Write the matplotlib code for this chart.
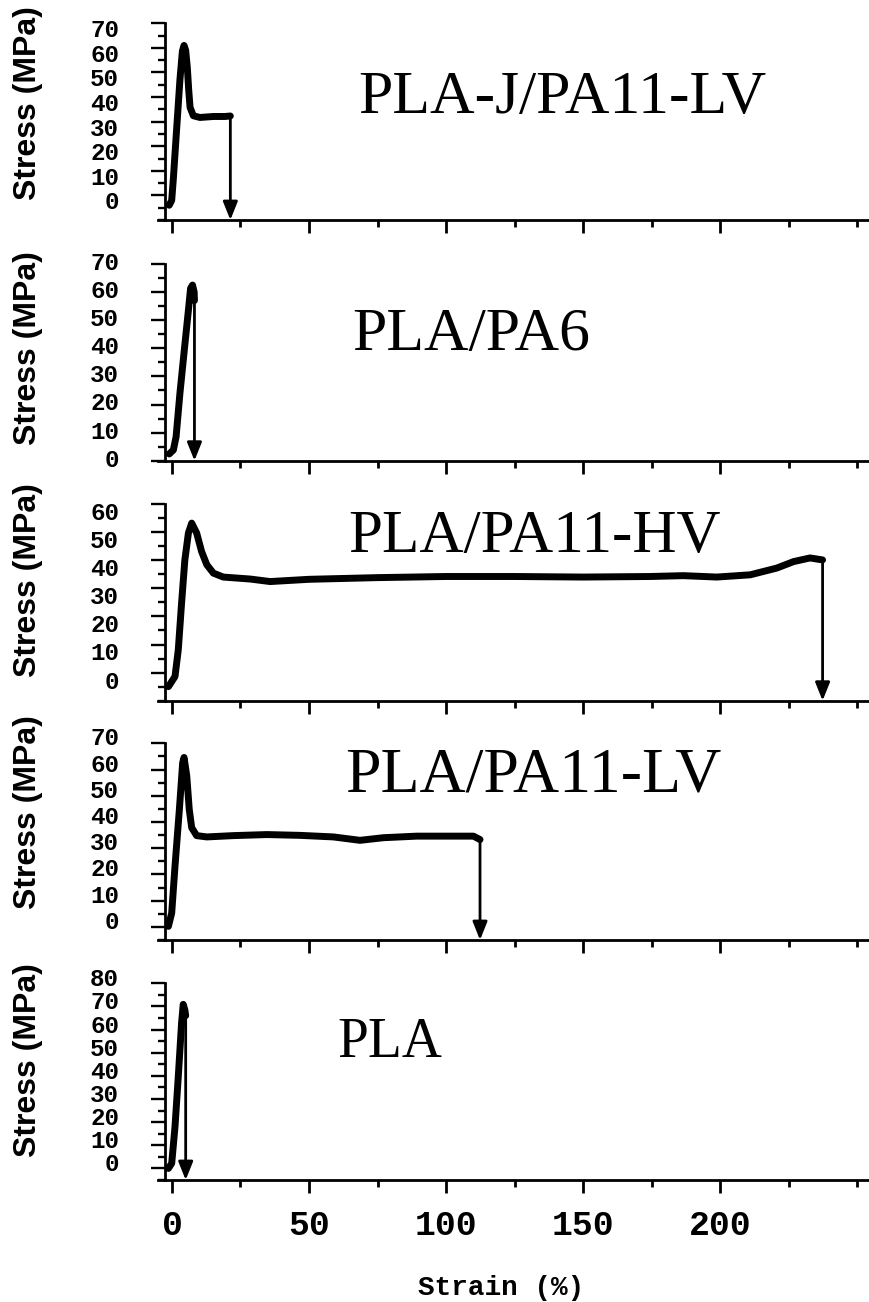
import matplotlib
matplotlib.use("Agg")
import matplotlib.pyplot as plt
import matplotlib.transforms as mtransforms
import numpy as np
from matplotlib.ticker import FixedLocator, MultipleLocator

W, H = 870, 1302

# sample names, top to bottom
names = ["PLA-J/PA11-LV", "PLA/PA6", "PLA/PA11-HV", "PLA/PA11-LV", "PLA"]

# PLA-J/PA11-LV
strain1 = [-1.0, -0.1, 0.5, 1.7, 2.9, 3.8, 4.4, 5.0, 5.6, 6.1, 6.6, 7.8, 10.2, 15.1, 19.3, 21.3]
stress1 = [-4.0, -2.0, 6.8, 27.0, 47.0, 58.7, 61.0, 59.0, 52.0, 43.0, 35.8, 32.4, 31.7, 32.1, 32.1, 32.3]

# PLA/PA6
strain2 = [-1.0, 0.5, 1.5, 2.9, 4.5, 6.0, 6.8, 7.5, 8.1, 8.2]
stress2 = [2.4, 3.8, 8.5, 24.0, 39.4, 53.6, 61.4, 62.5, 60.0, 57.0]

# PLA/PA11-HV
strain3 = [-1.3, -0.1, 1.1, 2.3, 3.5, 4.7, 6.0, 7.2, 9.0, 10.8, 12.7, 15.1, 18.7,
           28.5, 35.8, 50, 75, 100, 125, 150, 174.5, 186.6, 198.8, 211.0, 220.7,
           226.8, 232.8, 237.4]
stress3 = [-5.0, -3.2, -1.4, 8.1, 24.7, 40.1, 49.7, 53.2, 49.7, 43.1, 38.4, 35.4, 34.0,
           33.3, 32.4, 33.2, 33.8, 34.2, 34.2, 34.0, 34.2, 34.5, 34.0, 34.8, 37.2,
           39.5, 40.8, 40.1]

# PLA/PA11-LV
strain4 = [-1.3, -0.1, 1.1, 2.7, 3.9, 4.4, 5.4, 6.3, 7.2, 9.0, 12.7, 22.4, 34.6,
           46.7, 58.9, 68.6, 77.1, 89.3, 101.5, 110.0, 112.4]
stress4 = [0.2, 5.3, 23.1, 44.8, 62.6, 64.6, 57.5, 44.8, 37.8, 34.8, 34.3, 34.8, 35.2,
           34.9, 34.3, 33.0, 34.0, 34.6, 34.6, 34.6, 33.3]

# PLA
strain5 = [-1.3, -0.1, 1.1, 2.3, 3.5, 4.1, 4.7, 5.0]
stress5 = [0.0, 2.2, 18.0, 39.7, 62.8, 70.9, 68.5, 66.0]

curves = [(strain1, stress1), (strain2, stress2), (strain3, stress3),
          (strain4, stress4), (strain5, stress5)]

y_tops = [70, 70, 60, 70, 80]
y_bottoms = [-10, 0, -10, -5, -5]
x_ticks = [0, 50, 100, 150, 200]

# layout in pixels (top, bottom of each axes)
panel_px = [(23.3, 220), (264, 460.7), (504, 700.7), (743.3, 940), (983.3, 1180)]
ylabel_px = [103, 348, 580, 812, 1060]
title_px = [(358, 113), (352, 350), (348, 552), (345, 792), (337, 1057)]
title_size = [44.5, 44.5, 44, 46, 40]
# tick labels in the original sit a bit off their ticks (px, + is down)
label_shift = [5, -3, 7, -7, -6]

plt.rcParams['font.family'] = "Liberation Mono"
plt.rcParams['font.weight'] = "bold"

fig = plt.figure(figsize=(W / 100, H / 100), dpi=100)

for i in range(5):
    top, bot = panel_px[i]
    ax = fig.add_axes([158 / W, 1 - bot / H, (W - 158) / W, (bot - top) / H])
    x, y = curves[i]
    ax.plot(x, y, color="k", lw=5, solid_capstyle="round", solid_joinstyle="round")
    ax.annotate("", xy=(x[-1], y_bottoms[i]), xytext=(x[-1], y[-1]),
                arrowprops=dict(arrowstyle="-|>,head_length=0.55,head_width=0.22",
                                color="k", lw=2, shrinkA=0, shrinkB=0,
                                mutation_scale=20))

    ax.set_xlim(-5.1, 254.7)
    ax.set_ylim(y_bottoms[i], y_tops[i])

    for s in ["top", "right"]:
        ax.spines[s].set_visible(False)
    ax.spines["left"].set_position(("data", -2.55))
    ax.spines["left"].set_linewidth(2)
    ax.spines["bottom"].set_linewidth(2)

    ax.yaxis.set_major_locator(FixedLocator(np.arange(0, y_tops[i] + 1, 10)))
    ax.yaxis.set_minor_locator(FixedLocator(np.arange(y_bottoms[i], y_tops[i] + 1, 5)))
    ax.xaxis.set_major_locator(FixedLocator(x_ticks))
    ax.xaxis.set_minor_locator(MultipleLocator(25))

    ax.tick_params(axis="y", which="major", direction="out", length=10, width=1.7,
                   pad=23, labelsize=17.5)
    ax.tick_params(axis="y", which="minor", direction="out", length=5, width=1.7)
    ax.tick_params(axis="x", which="major", direction="out", length=9.6, width=2,
                   pad=11, labelsize=25, labelbottom=(i == 4))
    ax.tick_params(axis="x", which="minor", direction="out", length=4.8, width=2)

    shift = mtransforms.ScaledTranslation(0, -label_shift[i] / 100, fig.dpi_scale_trans)
    for tick in ax.yaxis.get_major_ticks():
        tick.label1.set_transform(tick.label1.get_transform() + shift)

    fig.text(28 / W, 1 - ylabel_px[i] / H, "Stress (MPa)", rotation=90,
             ha="center", va="center", fontsize=23, fontweight="bold",
             family="Liberation Sans")
    tx, ty = title_px[i]
    fig.text(tx / W, 1 - ty / H, names[i], ha="left", va="baseline",
             fontsize=title_size[i], fontweight="normal", family="Liberation Serif")

fig.text(501 / W, 1 - 1288 / H, "Strain (%)", ha="center", va="center",
         fontsize=20, fontweight="bold")

fig.savefig("out.png", dpi=100)
